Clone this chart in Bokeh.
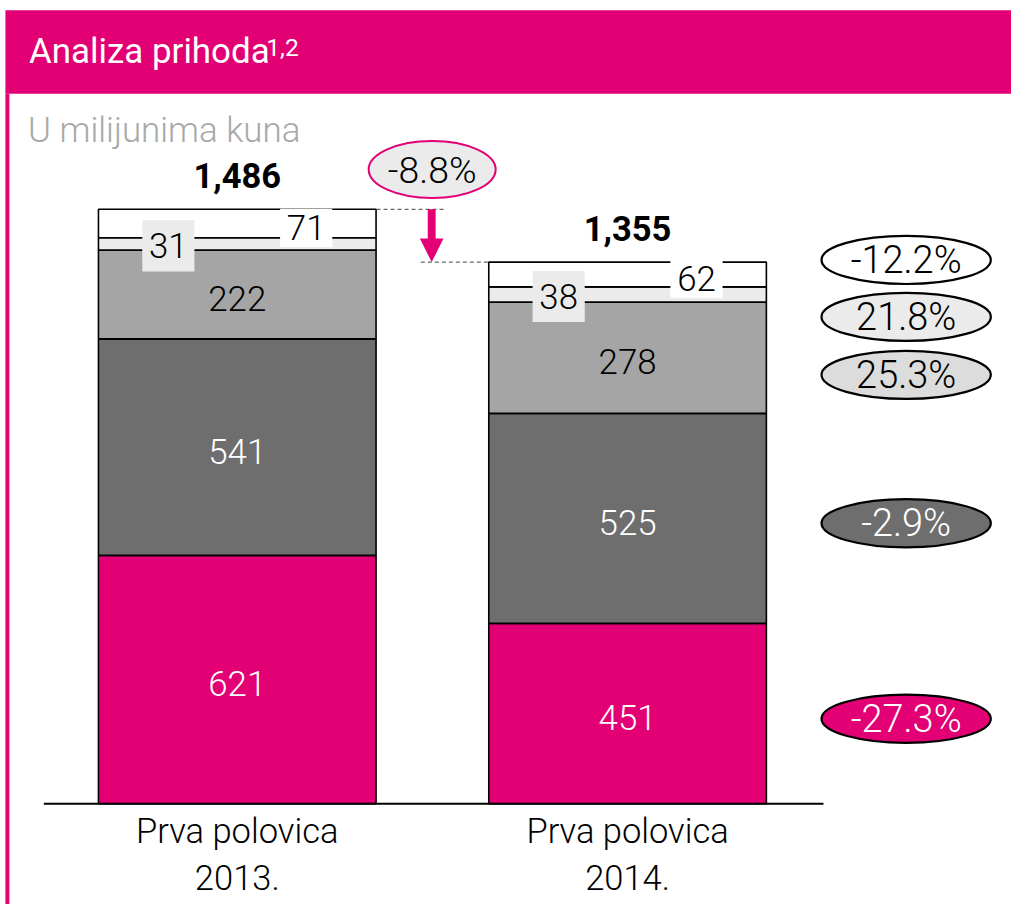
import numpy as np
from bokeh.plotting import figure
from bokeh.models import ColumnDataSource, Range1d
from bokeh.core.properties import value
from bokeh.embed import file_html
from bokeh.resources import INLINE

# ---------------- data ----------------
period_line1 = ["Prva polovica", "Prva polovica"]
period_line2 = ["2013.", "2014."]
seg_magenta = [621, 451]
seg_dark = [541, 525]
seg_mid = [222, 278]
seg_light = [31, 38]
seg_white = [71, 62]
total_labels = ["1,486", "1,355"]
change_labels = ["-27.3%", "-2.9%", "25.3%", "21.8%", "-12.2%"]
total_change = "-8.8%"
title = "Analiza prihoda"
title_sup = "1,2"
subtitle = "U milijunima kuna"

# ---------------- style / layout ----------------
MAGENTA = "#E20074"
DARK = "#6E6E6E"
MID = "#A5A5A5"
LIGHT = "#EBEBEB"
WHITE = "#FFFFFF"
LIGHTF = value("Roboto Light")
REGF = value("Roboto")

W, H = 1011, 904
RW, RH = 1027.0, 920.0     # design canvas (reference pixels)
K = W / RW                 # design px -> screen px
BASE = 817.5               # design y of value 0
S = 605.0 / 1486.0         # design px per unit

def Y(sy):
    return (BASE - sy) / S

def fs(px):
    return f"{px * K:.1f}px"

# text anchors below are the desired vertical centre of the capitals
TB = "alphabetic"

p = figure(width=W, height=H, output_backend="svg", toolbar_location=None,
           x_range=Range1d(0, RW), y_range=Range1d(Y(RH), Y(0)),
           min_border=0, outline_line_color=None)
p.axis.visible = False
p.grid.visible = False
p.background_fill_color = "white"
p.border_fill_color = "white"

# header band and left border
p.quad(left=5, right=RW, top=Y(10), bottom=Y(95), color=MAGENTA, line_color=None)
p.quad(left=5, right=9, top=Y(95), bottom=Y(RH), color=MAGENTA, line_color=None)

p.text(x=[29], y=[Y(52)], text=[title], text_font=REGF, text_font_size=fs(35.5),
       text_color="white", text_baseline=TB, text_align="left")
p.text(x=[270], y=[Y(48)], text=[title_sup], text_font=REGF, text_font_size=fs(25),
       text_color="white", text_baseline=TB, text_align="left")
p.text(x=[28], y=[Y(132.5)], text=[subtitle], text_font=LIGHTF, text_font_size=fs(35.5),
       text_color="#A8A8A8", text_baseline=TB, text_align="left")

# ---------------- stacked bars ----------------
xc = [240.5, 637.0]
bw = 282
stack = np.array([seg_magenta, seg_dark, seg_mid, seg_light, seg_white], dtype=float)
tops = np.cumsum(stack, axis=0)
bottoms = tops - stack
colors = [MAGENTA, DARK, MID, LIGHT, WHITE]
for i in range(stack.shape[0]):
    src = ColumnDataSource(dict(x=xc, bottom=bottoms[i], top=tops[i]))
    p.vbar(x="x", width=bw, bottom="bottom", top="top", source=src,
           fill_color=colors[i], line_color="black", line_width=1.6)

# baseline
p.segment(x0=[44], y0=[0], x1=[836], y1=[0], line_color="black", line_width=2)

# segment labels (big ones), slightly below the segment centre
label_colors = ["white", "white", "black"]
for i in range(3):
    mids = (bottoms[i] + tops[i]) / 2
    p.text(x=xc, y=list(mids - 4 / S), text=[str(int(v)) for v in stack[i]], text_font=LIGHTF,
           text_font_size=fs(35.5), text_color=label_colors[i], text_align="center",
           text_baseline=TB)

# small labels with boxes
for i, dx, dy, bh, fill in [(3, -70, 2, 52, LIGHT), (4, 70, 4.5, 39, WHITE)]:
    mids = (bottoms[i] + tops[i]) / 2
    xs = [x + dx for x in xc]
    yc = mids - dy / S
    p.rect(x=xs, y=list(yc), width=53, height=bh / S, fill_color=fill, line_color=None)
    p.text(x=xs, y=list(yc), text=[str(int(v)) for v in stack[i]], text_font=LIGHTF,
           text_font_size=fs(35.5), text_color="black", text_align="center",
           text_baseline=TB)

# totals
p.text(x=xc, y=list(tops[-1] + 34 / S), text=total_labels, text_font=REGF,
       text_font_size=fs(35), text_font_style="bold", text_color="black",
       text_align="center", text_baseline=TB)

# category labels
p.text(x=xc, y=[Y(845.5)] * 2, text=period_line1, text_font=LIGHTF, text_font_size=fs(35),
       text_color="black", text_align="center", text_baseline=TB)
p.text(x=xc, y=[Y(892.5)] * 2, text=period_line2, text_font=LIGHTF, text_font_size=fs(35),
       text_color="black", text_align="center", text_baseline=TB)

# total change marker
t1, t2 = tops[-1][0], tops[-1][1]
p.segment(x0=[382, 427], y0=[t1, t2], x1=[452, 497], y1=[t1, t2], line_color="#444444",
          line_width=1, line_dash="4 3")
ax = 438
p.quad(left=[ax - 4], right=[ax + 4], top=[t1], bottom=[t2 + 22 / S], color=MAGENTA, line_color=None)
p.patch(x=[ax - 12, ax + 12, ax], y=[t2 + 24 / S, t2 + 24 / S, t2], color=MAGENTA, line_color=None)
p.ellipse(x=[438.5], y=[Y(172)], width=129, height=58 / S, fill_color=LIGHT,
          line_color=MAGENTA, line_width=2)
p.text(x=[438.5], y=[Y(172)], text=[total_change], text_font=LIGHTF, text_font_size=fs(38),
       text_color="black", text_align="center", text_baseline=TB)

# per-segment change ellipses
ell_y = [731, 532, 381, 322, 264]
ell_fill = [MAGENTA, DARK, "#DCDCDC", LIGHT, WHITE]
ell_text = ["white", "white", "black", "black", "black"]
p.ellipse(x=[920] * 5, y=[Y(v) for v in ell_y], width=172, height=49 / S,
          fill_color=ell_fill, line_color="black", line_width=2.2)
p.text(x=[920] * 5, y=[Y(v) for v in ell_y], text=change_labels, text_font=LIGHTF,
       text_font_size=fs(38.5), text_color=ell_text, text_align="center", text_baseline=TB)

open("out.html", "w").write(file_html(p, INLINE))
